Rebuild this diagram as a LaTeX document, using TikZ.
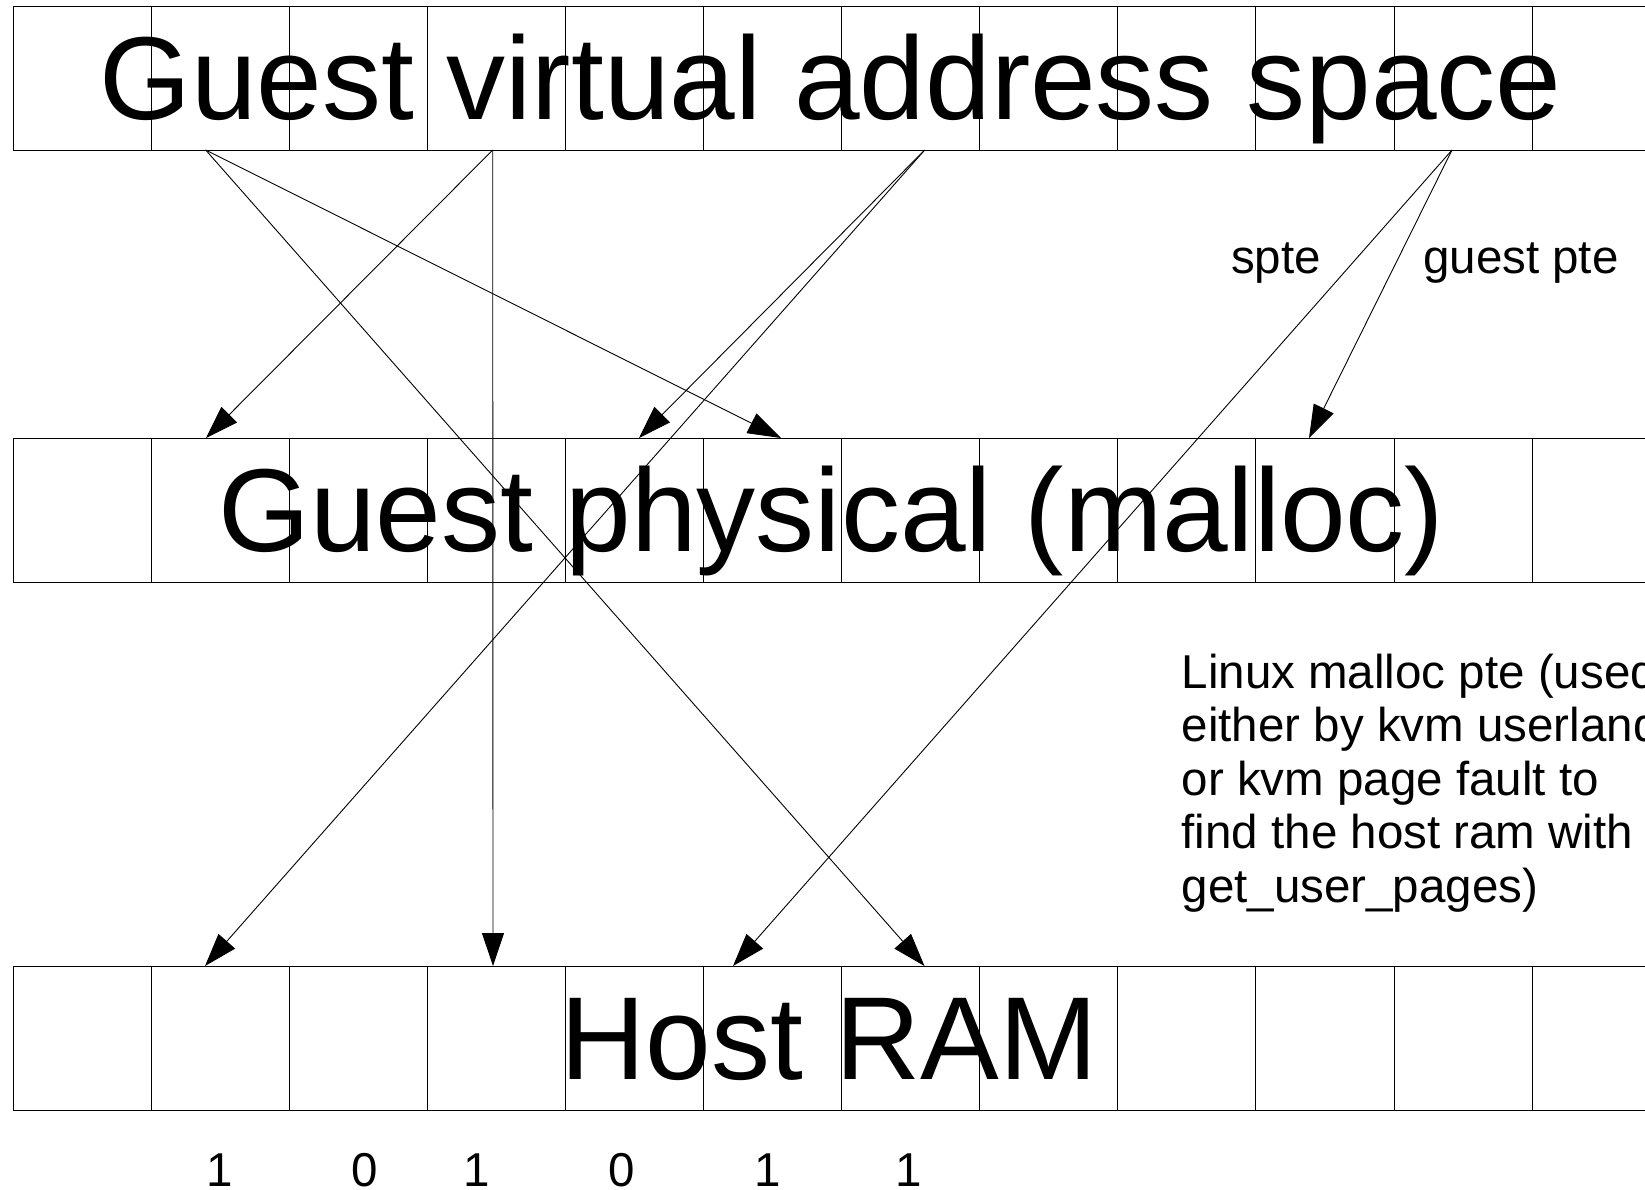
\documentclass[tikz,border=0pt]{standalone}
\usepackage{fontspec}
\setmainfont{Liberation Sans}
\usetikzlibrary{arrows.meta}
\begin{document}
\begin{tikzpicture}[x=1pt,y=-1pt,
  cellrow/.style={draw=black,line width=1pt},
  link/.style={draw=black,line width=0.9pt,-{Triangle[length=33pt,width=22pt]}},
  bigtitle/.style={font=\fontsize{118}{140}\selectfont,inner sep=0pt,anchor=base west},
  note/.style={font=\fontsize{47.5}{54}\selectfont,inner sep=0pt,anchor=base west},
  bit/.style={font=\fontsize{47.5}{54}\selectfont,inner sep=0pt,anchor=base}]
\useasboundingbox (0,0) rectangle (1645,1189);
\clip (0,0) rectangle (1645,1189);
\fill[white] (0,0) rectangle (1645,1189);

% three rows of twelve page cells
\foreach \yy in {6,438,966}{
  \foreach \i in {0,...,11}{
    \draw[cellrow] ({13+138.1*\i},\yy) rectangle ({13+138.1*(\i+1)},\yy+144);
  }
}

% row titles
\node[bigtitle] (gvat) at (99,119) {Guest virtual address space};
\node[bigtitle] (gpat) at (218,551) {Guest physical (malloc)};
\node[bigtitle] (ramt) at (560,1079) {Host RAM};

% mapping end points
\coordinate (a) at (205.7,150);
\coordinate (b) at (492.7,150);
\coordinate (c) at (924.7,150);
\coordinate (d) at (1452,150);
\coordinate (p1) at (206,438);
\coordinate (p2) at (639,438);
\coordinate (p3) at (781,438);
\coordinate (p4) at (1309,438);
\coordinate (h1) at (205,966);
\coordinate (h2) at (493,966);
\coordinate (h3) at (733,966);
\coordinate (h4) at (924.5,966);

% mappings
\draw[link] (a) -- (p3);
\draw[link] (a) -- (h4);
\draw[link] (b) -- (p1);
\draw[link] (b) -- (h2);
\draw[link] (c) -- (p2);
\draw[link] (c) -- (h1);
\draw[link] (d) -- (p4);
\draw[link] (d) -- (h3);

% labels
\node[note] (spte) at (1231,273) {spte};
\node[note] (gpte) at (1423,273) {guest pte};
\foreach \t [count=\k from 0] in {Linux malloc pte (used,either by kvm userland,or kvm page fault to,find the host ram with,get\_user\_pages)}{
  \node[note] (lx\k) at (1181.5,{688+53.5*\k}) {\t};
}

% page bits
\foreach \x/\v [count=\k] in {220/1,365/0,477/1,622/0,768/1,909/1}{
  \node[bit] (bit\k) at (\x,1186) {\v};
}
\end{tikzpicture}
\end{document}
